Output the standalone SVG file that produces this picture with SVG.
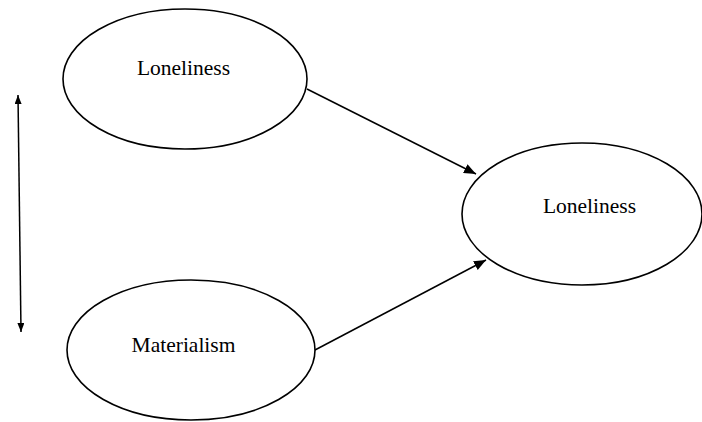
<svg xmlns="http://www.w3.org/2000/svg" width="702" height="422" viewBox="0 0 702 422">
  <style>
    .node ellipse { fill: #ffffff; stroke: #000000; stroke-width: 1.6; }
    .node text { font-family: "Liberation Serif", "Times New Roman", serif; font-size: 21.5px; fill: #000000; text-anchor: middle; }
    .edge { stroke: #000000; stroke-width: 1.5; fill: none; }
  </style>
  <defs>
    <marker id="arrow" viewBox="0 0 12 10" refX="12" refY="5" markerWidth="12" markerHeight="10" markerUnits="userSpaceOnUse" orient="auto">
      <path d="M0,0 L12,5 L0,10 Z" fill="#000000"/>
    </marker>
    <marker id="arrowSmall" viewBox="0 0 9 7" refX="9" refY="3.5" markerWidth="9" markerHeight="7" markerUnits="userSpaceOnUse" orient="auto-start-reverse">
      <path d="M0,0 L9,3.5 L0,7 Z" fill="#000000"/>
    </marker>
  </defs>
  <rect width="702" height="422" fill="#ffffff"/>
  <g id="node-loneliness-1" class="node">
    <ellipse cx="185" cy="79" rx="122" ry="70"/>
    <text x="183.5" y="75">Loneliness</text>
  </g>
  <g id="node-materialism" class="node">
    <ellipse cx="191" cy="350" rx="124" ry="70"/>
    <text x="183.5" y="352">Materialism</text>
  </g>
  <g id="node-loneliness-2" class="node">
    <ellipse cx="582" cy="214" rx="120" ry="71"/>
    <text x="589.5" y="213">Loneliness</text>
  </g>
  <g id="connectors">
    <line class="edge" x1="307" y1="89" x2="476" y2="174" marker-end="url(#arrow)"/>
    <line class="edge" x1="315" y1="350" x2="486" y2="260" marker-end="url(#arrow)"/>
    <line class="edge" x1="18" y1="95" x2="21" y2="332" marker-start="url(#arrowSmall)" marker-end="url(#arrowSmall)"/>
  </g>
</svg>
